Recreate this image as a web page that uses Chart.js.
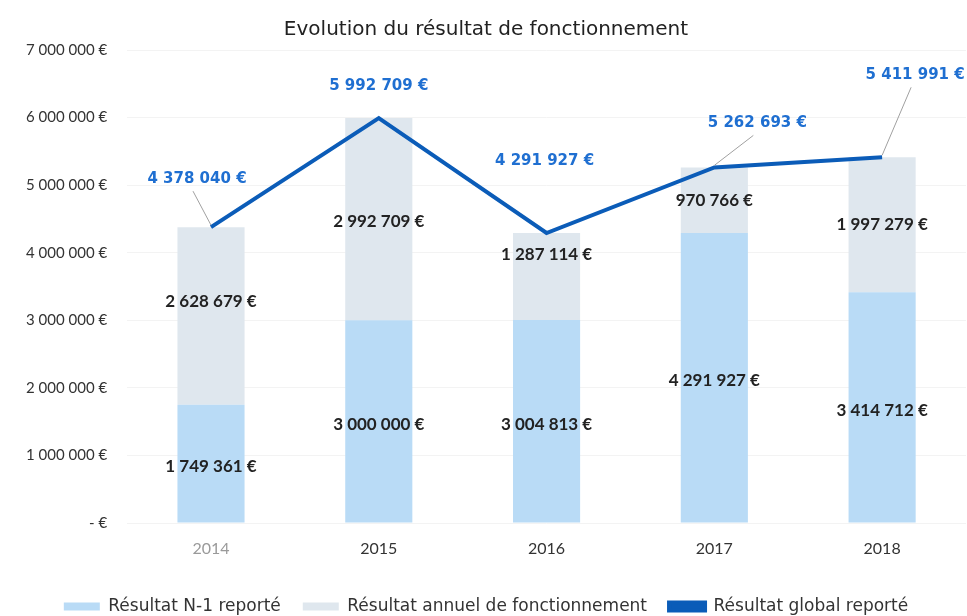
<!DOCTYPE html>
<html>
<head>
<meta charset="utf-8">
<script src="https://cdn.jsdelivr.net/npm/chart.js@4.4.0/dist/chart.umd.min.js"></script>
<style>
  html, body { margin: 0; padding: 0; background: #fff; }
</style>
</head>
<body>
<canvas id="resultat_Chart" width="967" height="616"></canvas>
<script>
// data
var annees = ["2014", "2015", "2016", "2017", "2018"];
var reporteN1 = [1749361, 3000000, 3004813, 4291927, 3414712];
var resultatAnnuel = [2628679, 2992709, 1287114, 970766, 1997279];
var resultatGlobal = [4378040, 5992709, 4291927, 5262693, 5411991];

function euros(v) {
  if (v === 0) return "- €";
  return String(Math.round(v)).replace(/\B(?=(\d{3})+(?!\d))/g, " ") + " €";
}

// where the blue labels sit relative to their point (dx, dy, leader line)
var lineLabelPos = [[-14, -48, true], [0, -32, false], [-2, -72, false], [43, -44, true], [33, -82, true]];
var topLabelShift = [-14, 2, -22, 0, 0];

const labelsPlugin = {
  id: "valueLabels",
  afterDatasetsDraw(chart) {
    const ctx = chart.ctx;
    ctx.save();
    ctx.textAlign = "center";
    ctx.textBaseline = "middle";
    ctx.font = "bold 17px Lato, 'DejaVu Sans', sans-serif";
    ctx.fillStyle = "#222";
    // bar segments
    [0, 1].forEach((di) => {
      const meta = chart.getDatasetMeta(di);
      const vals = chart.data.datasets[di].data;
      meta.data.forEach((bar, i) => {
        const cy = (bar.y + bar.base) / 2 + (di === 1 ? topLabelShift[i] : 3);
        ctx.fillText(euros(vals[i]), bar.x, cy);
      });
    });
    // line labels
    ctx.font = "bold 15px 'DejaVu Sans', sans-serif";
    const lm = chart.getDatasetMeta(2);
    lm.data.forEach((pt, i) => {
      const p = lineLabelPos[i];
      const lx = pt.x + p[0], ly = pt.y + p[1];
      if (p[2]) {
        ctx.strokeStyle = "#a0a0a0";
        ctx.lineWidth = 1;
        ctx.beginPath();
        ctx.moveTo(pt.x, pt.y - 2);
        ctx.lineTo(lx - 4, ly + 12);
        ctx.stroke();
      }
      ctx.fillStyle = "#1f6fd1";
      ctx.fillText(euros(resultatGlobal[i]), lx, ly);
    });
    ctx.restore();
  },
};

const data_resultat = {
  labels: annees,
  datasets: [
    {
      type: "bar",
      label: "Résultat N-1 reporté",
      data: reporteN1,
      backgroundColor: "#b9dbf6",
      stack: "bars",
      order: 2,
    },
    {
      type: "bar",
      label: "Résultat annuel de fonctionnement",
      data: resultatAnnuel,
      backgroundColor: "#dfe7ee",
      stack: "bars",
      order: 2,
    },
    {
      type: "line",
      label: "Résultat global reporté",
      data: resultatGlobal,
      borderColor: "#0b5cb8",
      backgroundColor: "#0b5cb8",
      borderWidth: 4,
      stack: "line",
      order: 1,
    },
  ],
};

const config_resultat = {
  data: data_resultat,
  plugins: [labelsPlugin],
  options: {
    responsive: false,
    animation: false,
    layout: { padding: { left: 6, right: 1, top: 0, bottom: -9 } },
    datasets: {
      bar: { barPercentage: 0.8, categoryPercentage: 0.5 },
    },
    scales: {
      x: {
        stacked: true,
        grid: { display: false },
        border: { display: false },
        afterFit: (axis) => { axis.height = 53; },
        ticks: {
          padding: 8,
          font: { family: "Lato, 'DejaVu Sans', sans-serif", size: 16 },
          color: (c) => (c.index === 0 ? "#9a9a9a" : "#333"),
        },
      },
      y: {
        stacked: true,
        min: 0,
        max: 7000000,
        border: { display: false },
        grid: { color: "#f3f3f3", drawTicks: false },
        ticks: {
          stepSize: 1000000,
          padding: 20,
          font: { family: "Lato, 'DejaVu Sans', sans-serif", size: 15 },
          color: "#333",
          callback: (v) => euros(v),
        },
      },
    },
    plugins: {
      title: {
        display: true,
        text: "Evolution du résultat de fonctionnement",
        color: "#222",
        font: { family: "'DejaVu Sans', sans-serif", size: 20, weight: "normal" },
        padding: { top: 18, bottom: 8 },
      },
      legend: {
        display: true,
        position: "bottom",
        labels: {
          boxWidth: 36,
          boxHeight: 8,
          color: "#333",
          padding: 22,
          font: { family: "'DejaVu Sans', sans-serif", size: 17 },
          sort: (a, b) => a.datasetIndex - b.datasetIndex,
        },
      },
      tooltip: { enabled: false },
    },
    elements: {
      point: { radius: 0 },
      line: { tension: 0 },
    },
  },
};

const resultat_Chart = new Chart(document.getElementById("resultat_Chart"), config_resultat);
</script>
</body>
</html>
